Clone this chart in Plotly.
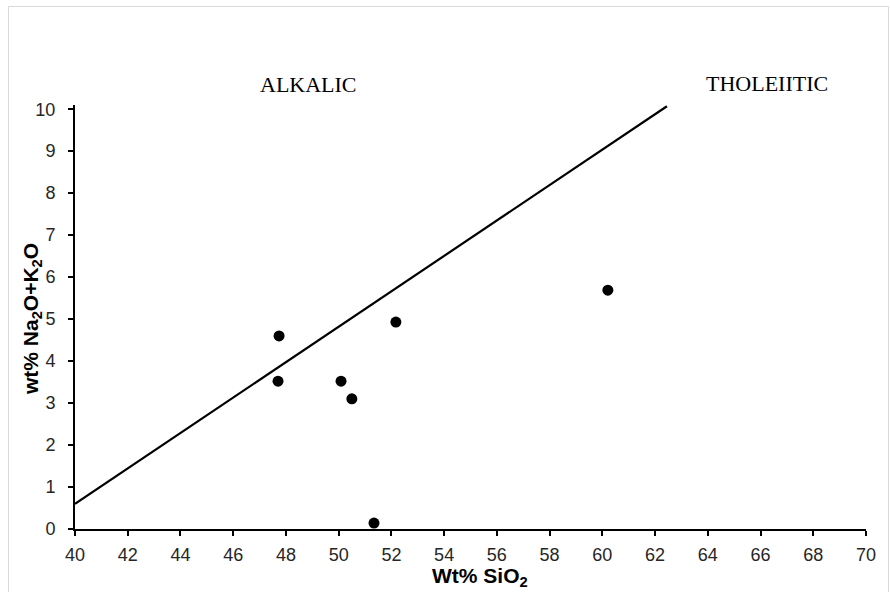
import plotly.graph_objects as go

# Sample data
sio2 = [47.74, 47.70, 50.09, 50.50, 52.17, 51.34, 60.21]
alkali = [4.60, 3.52, 3.52, 3.10, 4.93, 0.14, 5.69]

# Alkalic / tholeiitic dividing line
line_x = [40.0, 62.45]
line_y = [0.60, 10.07]

x_ticks = list(range(40, 71, 2))
y_ticks = list(range(0, 11, 1))

L, R, T, B = 75, 24, 105, 63
W, H = 890, 592
pw, ph = W - L - R, H - T - B

def px(x):
    return (x - L) / pw

def py(y):
    return (H - B - y) / ph

fig = go.Figure()
fig.add_trace(go.Scatter(x=line_x, y=line_y, mode="lines",
                         line=dict(color="black", width=2.2),
                         showlegend=False, hoverinfo="skip"))
fig.add_trace(go.Scatter(x=sio2, y=alkali, mode="markers",
                         marker=dict(color="black", size=11),
                         showlegend=False))

axis_common = dict(showline=True, linecolor="black", linewidth=2,
                   ticks="outside", ticklen=5, tickwidth=2, tickcolor="black",
                   showgrid=False, zeroline=False,
                   tickfont=dict(family="Liberation Sans, Arial", size=18, color="#262626"))

fig.update_xaxes(range=[40, 70], tickvals=x_ticks, ticklabelstandoff=3, **axis_common)
fig.update_yaxes(range=[0, 10.1], tickvals=y_ticks, ticklabelstandoff=9, **axis_common)

fig.add_annotation(text="ALKALIC", x=48.85, y=py(85), xref="x", yref="paper",
                   xanchor="center", yanchor="middle", showarrow=False,
                   font=dict(family="Liberation Serif, Times New Roman", size=22, color="black"))
fig.add_annotation(text="THOLEIITIC", x=66.26, y=py(83), xref="x", yref="paper",
                   xanchor="center", yanchor="middle", showarrow=False,
                   font=dict(family="Liberation Serif, Times New Roman", size=22, color="black"))

fig.add_annotation(text="<b>Wt% SiO<sub>2</sub></b>", x=px(479.5), y=py(577), xref="paper", yref="paper",
                   xanchor="center", yanchor="middle", showarrow=False,
                   font=dict(family="Liberation Sans, Arial", size=21, color="black"))
fig.add_annotation(text="<b>wt% Na<sub>2</sub>O+K<sub>2</sub>O</b>", x=px(32), y=py(319), xref="paper", yref="paper",
                   xanchor="center", yanchor="middle", showarrow=False, textangle=-90,
                   font=dict(family="Liberation Sans, Arial", size=21, color="black"))

fig.add_shape(type="rect", xref="paper", yref="paper",
              x0=px(8.5), x1=px(888.5), y0=py(600), y1=py(6.5),
              line=dict(color="#d9d9d9", width=1), fillcolor="rgba(0,0,0,0)", layer="below")

fig.update_layout(width=W, height=H, margin=dict(l=L, r=R, t=T, b=B),
                  plot_bgcolor="white", paper_bgcolor="white")

fig.write_html("out.html")
